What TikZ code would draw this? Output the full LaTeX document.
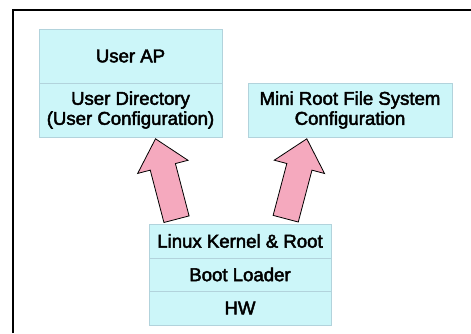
\documentclass[tikz,border=0pt]{standalone}
\usepackage{fontspec}
\setmainfont{Liberation Sans}
\newfontfamily\labfont{Liberation Sans}[FakeBold=2.5]
\usetikzlibrary{calc}
\definecolor{boxfill}{HTML}{CCF6F9}
\definecolor{boxline}{HTML}{B2D3DC}
\definecolor{arrowfill}{HTML}{F5A9BE}
\tikzset{
  layer/.style={draw=boxline, fill=boxfill, line width=1pt, inner sep=0pt,
    align=center, font=\labfont\fontsize{18.6}{20}\selectfont},
  fatarrow/.style={draw=black, fill=arrowfill, line width=0.8pt, line join=miter},
}
\newcommand{\fatarrowpath}[2]{%
  \coordinate (H) at ($(#2)!29pt!(#1)$);
  \draw[fatarrow] ($(#1)!13pt!90:(#2)$) -- ($(H)!13pt!-90:(#1)$) -- ($(H)!26pt!-90:(#1)$)
    -- (#2) -- ($(H)!26pt!90:(#1)$) -- ($(H)!13pt!90:(#1)$) -- ($(#1)!13pt!-90:(#2)$) -- cycle;}
\begin{document}
\begin{tikzpicture}[x=1pt,y=-1pt]
\useasboundingbox (0,0) rectangle (471,333);
\draw[line width=2pt] (13,333) -- (13,9.5) -- (471,9.5);
\node[layer, minimum width=183pt, minimum height=54pt] (userap) at (130.5,56) {User AP};
\node[layer, minimum width=183pt, minimum height=54pt] (userdir) at (130.5,110) {User Directory\\(User Configuration)};
\node[layer, minimum width=204pt, minimum height=54pt] (mini) at (350,110) {Mini Root File System\\Configuration};
\node[layer, minimum width=182pt, minimum height=34pt] (kernel) at (240,241) {Linux Kernel \& Root};
\node[layer, minimum width=182pt, minimum height=33pt] (boot) at (240,274.5) {Boot Loader};
\node[layer, minimum width=182pt, minimum height=34pt] (hw) at (240,308) {HW};
\coordinate (b1) at ($(kernel.north west)+(28,-4.3)$);
\coordinate (t1) at ($(userdir.south west)+(117,1.3)$);
\coordinate (b2) at ($(kernel.north west)+(137.2,-4.8)$);
\coordinate (t2) at ($(mini.south west)+(59.3,1.3)$);
\fatarrowpath{b1}{t1}
\fatarrowpath{b2}{t2}
\end{tikzpicture}
\end{document}
